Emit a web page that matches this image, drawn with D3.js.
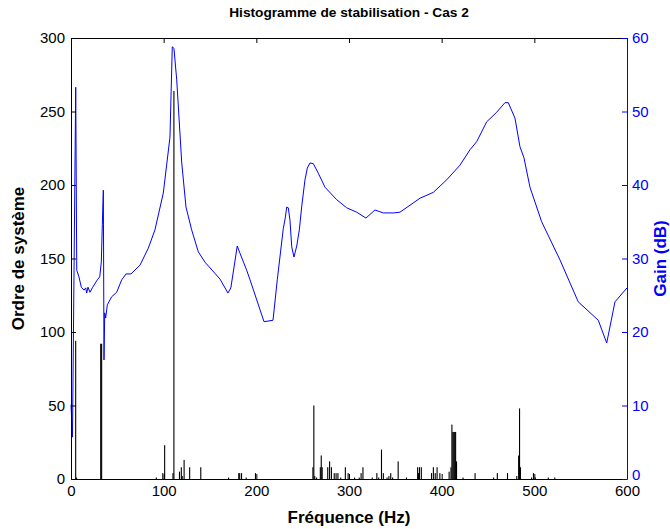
<!DOCTYPE html>
<html>
<head>
<meta charset="utf-8">
<script src="https://cdn.jsdelivr.net/npm/d3@7"></script>
<style>
  body { margin: 0; background: #fff; }
  svg { display: block; font-family: "Liberation Sans", Arial, sans-serif; }
</style>
</head>
<body>
<div id="chart"></div>
<script>
// Histogram bins (Hz) and counts (system order)
const binFreq = [5, 6, 32, 33, 92, 99, 101, 110, 111, 117, 119, 120, 122, 128, 140,
  170, 181, 182, 184, 189, 199, 261, 262, 263, 265, 269, 270, 271, 277, 279, 281,
  284, 286, 288, 291, 296, 299, 306, 311, 313, 315, 325, 330, 332, 335, 337, 341,
  343, 345, 347, 353, 362, 374, 375, 376, 378, 389, 391, 393, 395, 398, 408, 410,
  411, 412, 413, 414, 415, 416, 423, 436, 456, 460, 471, 481, 483, 484, 485, 497,
  499, 501, 515, 522];
const binCount = [94, 1, 92, 92, 1, 4, 23, 4, 264, 5, 8, 2, 13, 8, 8,
  1, 4, 4, 4, 1, 4, 8, 50, 2, 1, 8, 16, 8, 8, 12, 8,
  4, 4, 4, 1, 8, 4, 1, 1, 4, 8, 1, 4, 1, 20, 4, 1,
  2, 4, 1, 12, 1, 8, 4, 8, 8, 4, 8, 4, 8, 4, 5, 8,
  37, 32, 32, 32, 32, 12, 1, 4, 1, 4, 4, 2, 16, 48, 8, 1,
  4, 1, 1, 1];

// Gain curve (Hz, dB)
const gainFreq = [0, 1.6, 5.1, 6.2, 8.6, 11.1, 14.0, 15.9, 16.9, 18.3, 20.5, 23.0,
  28.4, 31.0, 32.7, 33.8, 34.9, 35.6, 36.4, 37.4, 39.2, 43.9, 49.3, 54.7, 59.4, 64.7,
  74.5, 83.4, 90.6, 99.6, 106.8, 109.3, 111.1, 114.1, 119.5, 124.1, 130.2, 137.4,
  144.6, 160.8, 169.4, 172.5, 179.4, 182.4, 189.6, 193.2, 208.3, 218.0, 222.6, 229.1,
  231.2, 232.8, 234.5, 236.3, 238.2, 240.6, 243.6, 246.4, 248.9, 252.5, 255.0, 257.9,
  261.5, 266.9, 274.1, 286.7, 297.5, 308.3, 318.3, 328.0, 337.0, 347.8, 355.0, 376.6,
  391.0, 405.4, 419.8, 430.6, 437.8, 448.6, 459.4, 468.3, 471.9, 479.1, 484.5, 488.8,
  495.3, 507.9, 527.7, 547.4, 569.0, 578.1, 587.0, 600];
const gainDb = [10.1, 5.7, 53.3, 28.4, 27.5, 26.1, 25.7, 26.0, 25.3, 26.1, 25.4, 26.0,
  27.1, 27.5, 29.5, 34.6, 39.3, 16.2, 22.6, 21.9, 23.7, 24.8, 25.4, 27.1, 27.9, 27.9,
  29.1, 31.4, 33.9, 38.9, 46.5, 58.8, 58.6, 54.3, 43.0, 37.0, 33.9, 30.9,
  29.5, 27.2, 25.3, 26.0, 31.7, 30.7, 28.4, 27.1, 21.4, 21.6, 27.1, 34.1,
  35.5, 37.0, 36.9, 35.2, 31.6, 30.2, 31.7, 33.9, 37.0, 40.7, 42.3, 43.0,
  42.9, 41.6, 39.7, 38.0, 36.9, 36.3, 35.5, 36.6, 36.2, 36.2, 36.3, 38.2,
  39.0, 40.7, 42.7, 44.8, 45.9, 48.6, 49.9, 51.2, 51.2, 49.1, 45.2, 43.7,
  39.7, 35.0, 29.8, 24.1, 21.6, 18.5, 24.1, 26.0];

const xTicks = [0, 100, 200, 300, 400, 500, 600];
const leftTicks = [0, 50, 100, 150, 200, 250, 300];
const rightTicks = [0, 10, 20, 30, 40, 50, 60];

const width = 670, height = 529;
const margin = { top: 38, right: 43, bottom: 50, left: 71 };
const blue = '#0000ff';

const svg = d3.select('#chart').append('svg')
  .attr('width', width)
  .attr('height', height);

const x = d3.scaleLinear().domain([0, 600]).range([margin.left, width - margin.right]);
const yL = d3.scaleLinear().domain([0, 300]).range([height - margin.bottom, margin.top]);
const yR = d3.scaleLinear().domain([0, 60]).range([height - margin.bottom, margin.top]);

// Bars
const bars = binFreq.map((f, i) => ({ f: f, c: binCount[i] }));
svg.append('g')
  .selectAll('rect')
  .data(bars)
  .enter()
  .append('rect')
  .attr('x', d => x(d.f) - 0.5)
  .attr('width', d => Math.max(1.1, x(d.f + 1) - x(d.f)))
  .attr('y', d => yL(d.c))
  .attr('height', d => yL(0) - yL(d.c))
  .attr('fill', '#000');

// Gain curve
const pts = gainFreq.map((f, i) => [f, gainDb[i]]);
svg.append('path')
  .datum(pts)
  .attr('fill', 'none')
  .attr('stroke', blue)
  .attr('stroke-width', 1)
  .attr('d', d3.line().x(d => x(d[0])).y(d => yR(d[1])));

// Axes
const fontSize = '15px';
const bottomAxis = svg.append('g')
  .attr('transform', `translate(0,${yL(0)})`)
  .call(d3.axisBottom(x).tickValues(xTicks).tickSize(-5).tickSizeOuter(0).tickPadding(6));
const topAxis = svg.append('g')
  .attr('transform', `translate(0,${margin.top})`)
  .call(d3.axisTop(x).tickValues(xTicks).tickSize(-5).tickSizeOuter(0).tickFormat(''));
const leftAxis = svg.append('g')
  .attr('transform', `translate(${margin.left},0)`)
  .call(d3.axisLeft(yL).tickValues(leftTicks).tickSize(-5).tickSizeOuter(0).tickPadding(6));
const rightAxis = svg.append('g')
  .attr('transform', `translate(${width - margin.right},0)`)
  .call(d3.axisRight(yR).tickValues(rightTicks).tickSize(-5).tickSizeOuter(0).tickPadding(5));

[bottomAxis, topAxis, leftAxis].forEach(g => {
  g.selectAll('path,line').attr('stroke', '#000');
  g.selectAll('text').attr('fill', '#000').style('font-size', fontSize);
});
rightAxis.selectAll('path,line').attr('stroke', blue);
rightAxis.selectAll('text').attr('fill', blue).style('font-size', fontSize);
// keep the right "0" clear of the bottom "600"
rightAxis.selectAll('.tick text').filter(d => d === 0).attr('dy', '0em');

// Titles
svg.append('text')
  .attr('x', (margin.left + width - margin.right) / 2)
  .attr('y', 17)
  .attr('text-anchor', 'middle')
  .style('font-size', '13.7px')
  .style('font-weight', 'bold')
  .text('Histogramme de stabilisation - Cas 2');

svg.append('text')
  .attr('x', (margin.left + width - margin.right) / 2)
  .attr('y', 523)
  .attr('text-anchor', 'middle')
  .style('font-size', '17px')
  .style('font-weight', 'bold')
  .text('Fréquence (Hz)');

svg.append('text')
  .attr('transform', `translate(24,${(margin.top + height - margin.bottom) / 2}) rotate(-90)`)
  .attr('text-anchor', 'middle')
  .style('font-size', '17px')
  .style('font-weight', 'bold')
  .text('Ordre de système');

svg.append('text')
  .attr('transform', `translate(666,${(margin.top + height - margin.bottom) / 2}) rotate(-90)`)
  .attr('text-anchor', 'middle')
  .attr('fill', blue)
  .style('font-size', '17px')
  .style('font-weight', 'bold')
  .text('Gain (dB)');
</script>
</body>
</html>
